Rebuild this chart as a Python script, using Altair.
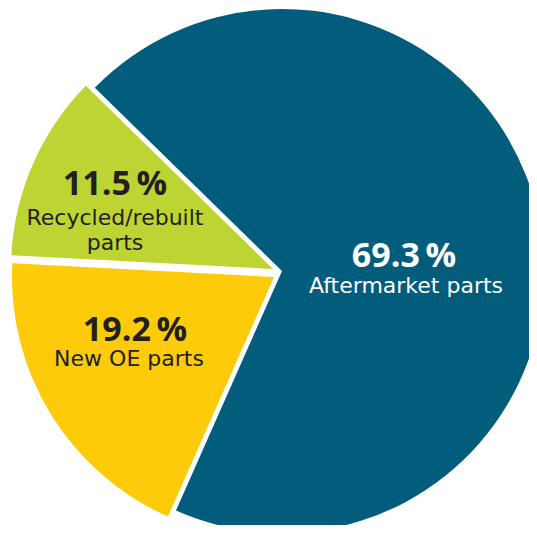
import altair as alt
import pandas as pd
import math

# data
categories = ["Aftermarket parts", "New OE parts", "Recycled/rebuilt parts"]
shares = [69.3, 19.2, 11.5]
pct_labels = ["69.3\u2009%", "19.2\u2009%", "11.5\u2009%"]
name_lines = [["Aftermarket parts"], ["New OE parts"], ["Recycled/rebuilt", "parts"]]
colors = ["#025C7C", "#FDCB0A", "#BDD433"]
text_colors = ["#FFFFFF", "#231F20", "#231F20"]

# layout (chart coordinates = page - 8)
W, H = 521, 517
R = 262
slice_centers = [(274, 263), (266, 269), (265, 261)]  # slight explode per slice
start = -45.6 * math.pi / 180
pct_pos = [(396, 259), (127, 333), (107, 187)]
name_pos = [(398, 285), (121, 358), (107, 217)]

df = pd.DataFrame({
    "cat": categories, "share": shares, "order": [0, 1, 2],
    "cx": [c[0] for c in slice_centers], "cy": [c[1] for c in slice_centers],
})

pie = alt.Chart(df).mark_arc(outerRadius=R).encode(
    theta=alt.Theta("share:Q", stack=True,
                    scale=alt.Scale(range=[start, start + 2 * math.pi])),
    color=alt.Color("cat:N", scale=alt.Scale(domain=categories, range=colors), legend=None),
    order=alt.Order("order:Q"),
    x=alt.X("cx:Q", scale=None), y=alt.Y("cy:Q", scale=None),
)

pct_df = pd.DataFrame({
    "t": pct_labels,
    "x": [p[0] for p in pct_pos],
    "y": [p[1] for p in pct_pos],
    "c": text_colors,
})
pct = alt.Chart(pct_df).mark_text(
    font="Open Sans", fontWeight="bold", fontSize=34, baseline="alphabetic", align="center"
).encode(
    x=alt.X("x:Q", scale=None), y=alt.Y("y:Q", scale=None),
    text="t:N", color=alt.Color("c:N", scale=None),
)

name_df = pd.DataFrame({
    "t": name_lines,
    "x": [p[0] for p in name_pos],
    "y": [p[1] for p in name_pos],
    "c": text_colors,
})
names = alt.Chart(name_df).mark_text(
    font="DejaVu Sans", fontSize=22, baseline="alphabetic", align="center", lineHeight=25
).encode(
    x=alt.X("x:Q", scale=None), y=alt.Y("y:Q", scale=None),
    text="t", color=alt.Color("c:N", scale=None),
)

chart = alt.layer(pie, pct, names).properties(
    width=W, height=H, padding=0, autosize=alt.AutoSizeParams(type="none")
).configure_view(stroke=None)

chart.save("out.html", embed_options={"renderer": "svg", "actions": False})
